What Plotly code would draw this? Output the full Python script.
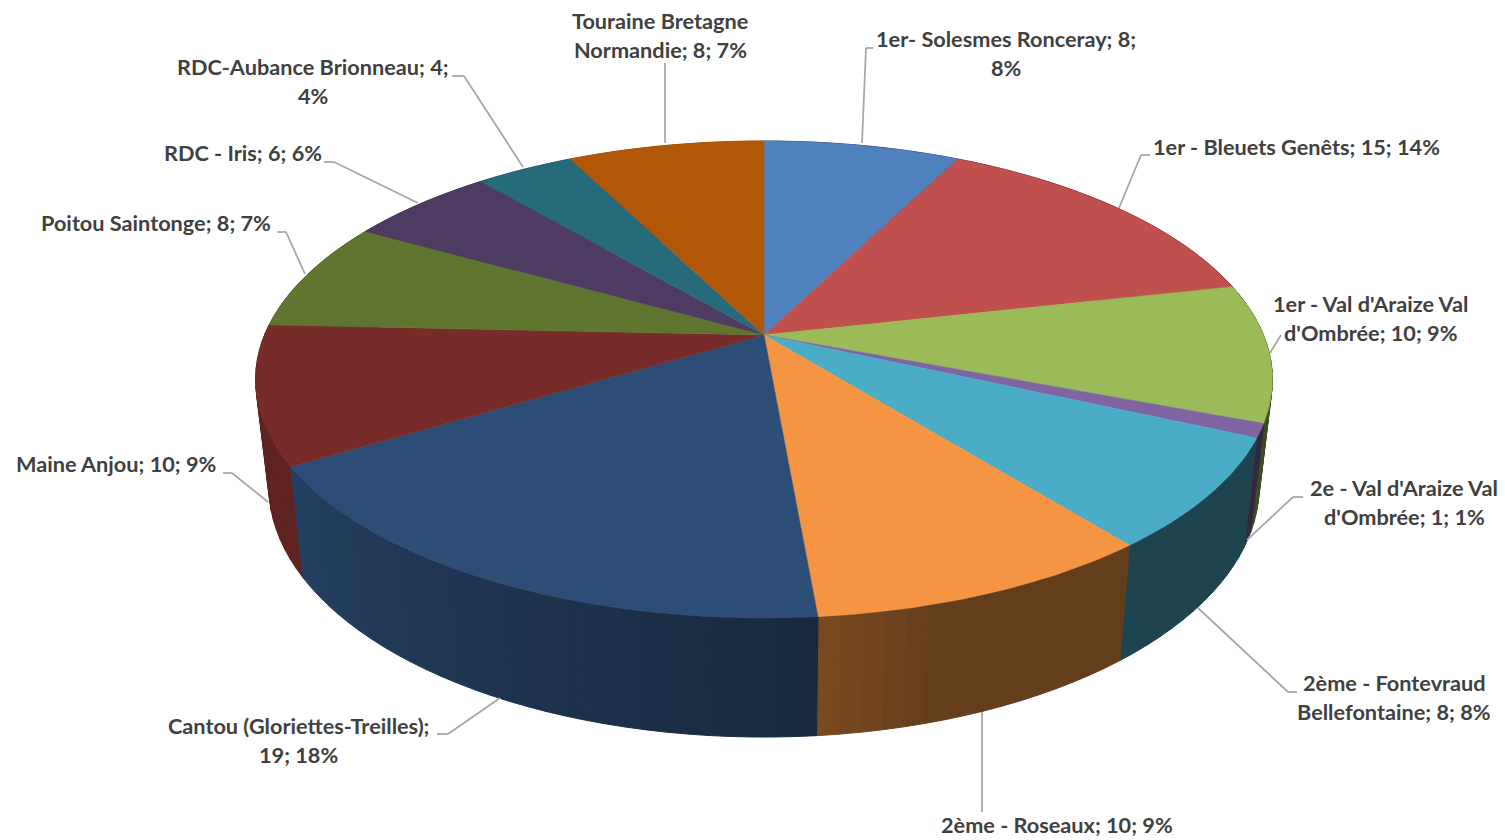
import math
import plotly.graph_objects as go

# ---------- data ----------
slice_names = ["1er- Solesmes Ronceray", "1er - Bleuets Genêts", "1er - Val d'Araize Val d'Ombrée",
               "2e - Val d'Araize Val d'Ombrée", "2ème - Fontevraud Bellefontaine", "2ème - Roseaux",
               "Cantou (Gloriettes-Treilles)", "Maine Anjou", "Poitou Saintonge", "RDC - Iris",
               "RDC-Aubance Brionneau", "Touraine Bretagne Normandie"]
slice_values = [8, 15, 10, 1, 8, 10, 19, 10, 8, 6, 4, 8]
label_lines = [
    ["1er- Solesmes Ronceray; 8;", "8%"],
    ["1er - Bleuets Genêts; 15; 14%"],
    ["1er - Val d'Araize Val", "d'Ombrée; 10; 9%"],
    ["2e - Val d'Araize Val", "d'Ombrée; 1; 1%"],
    ["2ème - Fontevraud", "Bellefontaine; 8; 8%"],
    ["2ème - Roseaux; 10; 9%"],
    ["Cantou (Gloriettes-Treilles);", "19; 18%"],
    ["Maine Anjou; 10; 9%"],
    ["Poitou Saintonge; 8; 7%"],
    ["RDC - Iris; 6; 6%"],
    ["RDC-Aubance Brionneau; 4;", "4%"],
    ["Touraine Bretagne", "Normandie; 8; 7%"],
]

# ---------- style ----------
top_colors = [(79, 129, 189), (192, 80, 77), (155, 187, 89), (128, 100, 162), (75, 172, 198), (245, 148, 66),
              (44, 77, 117), (119, 44, 42), (95, 117, 48), (77, 59, 98), (39, 106, 124), (178, 86, 8)]
wall_shades = [(.5, .5), (.5, .5), (.4, .4), (.4, .4), (.4, .4), (.41, .41, .41, .5),
               (.53, .83), (.8, .8), (.8, .8), (.8, .8), (.8, .8), (.8, .8)]
label_centers = [(1006, 39), (1296, 147), (1370, 304), (1404, 488), (1394, 683), (1057, 825),
                 (298, 726), (116, 464), (156, 223), (243, 153), (313, 67), (660, 21)]
leaders = [
    [(862, 143), (866, 48), (873, 48)],
    [(1119, 208), (1141, 155), (1150, 155)],
    [(1270, 353), (1281, 335)],
    [(1247, 540), (1293, 497), (1303, 497)],
    [(1198, 608), (1288, 692), (1297, 692)],
    [(982, 712), (982, 812)],
    [(500, 698), (448, 734), (437, 734)],
    [(268, 502), (232, 473), (223, 473)],
    [(305, 274), (286, 232), (277, 232)],
    [(418, 203), (334, 162), (324, 162)],
    [(523, 167), (464, 76), (452, 76)],
    [(665, 143), (665, 63)],
]
LEADER = "#A6A6A6"
TEXT = "#404040"
FONT = "Lato"
FONT_SIZE = 21.7
LINE_GAP = 28.5

# ---------- projection of the disc ----------
CX, CY = 764, 335
A, B, PERSP = 499.5, 230.2, 0.1866


def top_pt(theta):
    u = 1 + PERSP * math.cos(theta)
    return CX + A * math.sin(theta) / u, CY - B * math.cos(theta) / u


def bottom_pt(theta):
    x, y = top_pt(theta)
    return CX + 0.974 * (x - CX), 86.3 + 1.053 * y


def rgb(c, k=1.0):
    return "rgb(%d,%d,%d)" % tuple(round(v * k) for v in c)


def shade_at(stops, f):
    pos = f * (len(stops) - 1)
    i = min(int(pos), len(stops) - 2)
    return stops[i] + (stops[i + 1] - stops[i]) * (pos - i)


total = sum(slice_values)
edges = [0.0]
for v in slice_values:
    edges.append(edges[-1] + v / total * 2 * math.pi)

fig = go.Figure()

# side wall pieces, far ones first
pieces = []
for i in range(len(slice_values)):
    a0, a1 = edges[i], edges[i + 1]
    n = max(1, int((a1 - a0) / math.radians(2)))
    for j in range(n):
        t0 = a0 + (a1 - a0) * j / n
        t1 = a0 + (a1 - a0) * (j + 1) / n
        k = shade_at(wall_shades[i], (j + .5) / n)
        pieces.append((math.cos((t0 + t1) / 2), t0, t1, rgb(top_colors[i], k)))
for _, t0, t1, col in sorted(pieces, key=lambda p: -p[0]):
    pts = [top_pt(t0), top_pt(t1), bottom_pt(t1), bottom_pt(t0), top_pt(t0)]
    fig.add_trace(go.Scatter(x=[p[0] for p in pts], y=[p[1] for p in pts], mode="lines", fill="toself",
                             fillcolor=col, line=dict(color=col, width=1), hoverinfo="skip", showlegend=False))

# top faces
for i, name in enumerate(slice_names):
    a0, a1 = edges[i], edges[i + 1]
    n = max(3, int((a1 - a0) / math.radians(1)))
    pts = [(CX, CY)] + [top_pt(a0 + (a1 - a0) * j / n) for j in range(n + 1)] + [(CX, CY)]
    fig.add_trace(go.Scatter(x=[p[0] for p in pts], y=[p[1] for p in pts], mode="lines", fill="toself",
                             fillcolor=rgb(top_colors[i]), line=dict(color=rgb(top_colors[i]), width=0.5),
                             name=name, hoverinfo="name", showlegend=False))

# leader lines and labels
shapes = []
for poly in leaders:
    for (x0, y0), (x1, y1) in zip(poly, poly[1:]):
        shapes.append(dict(type="line", xref="x", yref="y", x0=x0, y0=y0, x1=x1, y1=y1,
                           line=dict(color=LEADER, width=1.75)))
annotations = []
for lines, (cx, cy) in zip(label_lines, label_centers):
    for k, line in enumerate(lines):
        annotations.append(dict(x=cx, y=cy + k * LINE_GAP, xref="x", yref="y", text=line, showarrow=False,
                                xanchor="center", yanchor="middle",
                                font=dict(family=FONT, size=FONT_SIZE, color=TEXT, weight="bold")))

fig.update_layout(
    width=1505, height=840, margin=dict(l=0, r=0, t=0, b=0),
    paper_bgcolor="white", plot_bgcolor="white", showlegend=False,
    xaxis=dict(range=[0, 1505], visible=False, fixedrange=True),
    yaxis=dict(range=[840, 0], visible=False, fixedrange=True),
    shapes=shapes, annotations=annotations,
)
fig.write_html("out.html", post_script="document.body.style.margin='0';document.documentElement.style.overflow='hidden';",
               config={"displayModeBar": False})
